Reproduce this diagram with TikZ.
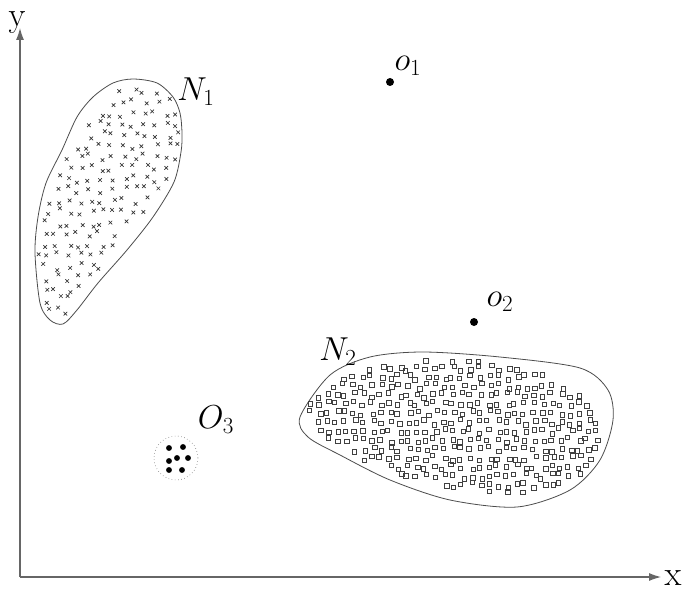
\documentclass[tikz,border=0pt]{standalone}
\usetikzlibrary{arrows.meta}
\tikzset{
  axis/.style={draw=black!60,line width=0.8pt,-{Latex[length=9pt,width=6pt]}},
  blob/.style={draw=black!70,line width=0.6pt},
  lab/.style={font=\fontsize{26}{30}\selectfont,inner sep=0pt},
  xmark/.style={draw=black!80,line width=0.5pt},
  sqmark/.style={draw=black!75,line width=0.5pt},
}
\begin{document}
\begin{tikzpicture}[x=0.75pt,y=-0.75pt]
\useasboundingbox (0,0) rectangle (682,592);
\coordinate (O) at (20,577);
\coordinate (X) at (661,577);
\coordinate (Y) at (20,28);
\draw[axis] (O) -- (X);
\draw[axis] (O) -- (Y);
\node[lab] (xl) at (673,578) {x};
\node[lab] (yl) at (17,23) {y};
\draw[blob] plot[smooth cycle] coordinates {(133,79) (157,83) (173,97) (180,113) (182,133) (181,152) (174,182) (153,217) (127,250) (98,283) (77,310) (63,324) (50,320) (40,303) (35,253) (38,217) (46,183) (62,150) (77,117) (93,97) (113,83)};
\draw[blob] plot[smooth cycle] coordinates {(300,417) (330,375) (370,357) (423,352) (500,357) (580,368) (608,390) (613,420) (600,460) (570,490) (517,507) (450,500) (390,480) (340,455) (308,437)};
\pgfmathsetseed{11}
\foreach \gx in {35,46,...,190}
\foreach \gy in {80,91,...,330}{
  \pgfmathsetmacro\px{\gx+4*rand}
  \pgfmathsetmacro\py{\gy+4*rand}
  \pgfmathsetmacro\u{(\px-108.5)/73.5}
  \pgfmathsetmacro\v{(\py-202)/123}
  \pgfmathsetmacro\d{((\px-173)*1.27+(\py-183)*0.96)/1.592}
  \pgfmathtruncatemacro\ok{and(and((\u*\u+1.018*\u*\v+\v*\v)/0.741<0.95,\d<-6),and(\py<317,\py>86))?1:0}
  \ifnum\ok=1
    \draw[xmark] (\px-1.8,\py-1.8) -- (\px+1.8,\py+1.8) (\px-1.8,\py+1.8) -- (\px+1.8,\py-1.8);
  \fi
}
\foreach \gx in {300,309,...,615}
\foreach \gy in {350,359,...,510}{
  \pgfmathsetmacro\px{\gx+3*rand}
  \pgfmathsetmacro\py{\gy+3*rand}
  \pgfmathsetmacro\u{(\px-456)/148}
  \pgfmathsetmacro\v{(\py-424-14*\u)/76}
  \pgfmathtruncatemacro\ok{(\u*\u+(\v/(0.85+0.15*\u))^2<1)?1:0}
  \ifnum\ok=1
    \draw[sqmark] (\px-2.2,\py-2.2) rectangle (\px+2.2,\py+2.2);
  \fi
}
\coordinate (p1) at (390,82);
\coordinate (p2) at (474,322);
\fill (p1) circle (3pt);
\fill (p2) circle (3pt);
\coordinate (c3) at (176,458);
\draw[dotted,black!70] (c3) circle (16.5pt);
\foreach \a/\b in {169/448,183/447,169/461,177/458,188/458,169/470,182/470}
  \fill (\a,\b) circle (2.2pt);
\node[lab] (n1) at (196,92) {$N_1$};
\node[lab] (n2) at (338,352) {$N_2$};
\node[lab] (o3) at (216,420) {$O_3$};
\node[lab] (l1) at (408,66) {$o_1$};
\node[lab] (l2) at (500,302) {$o_2$};
\end{tikzpicture}
\end{document}
